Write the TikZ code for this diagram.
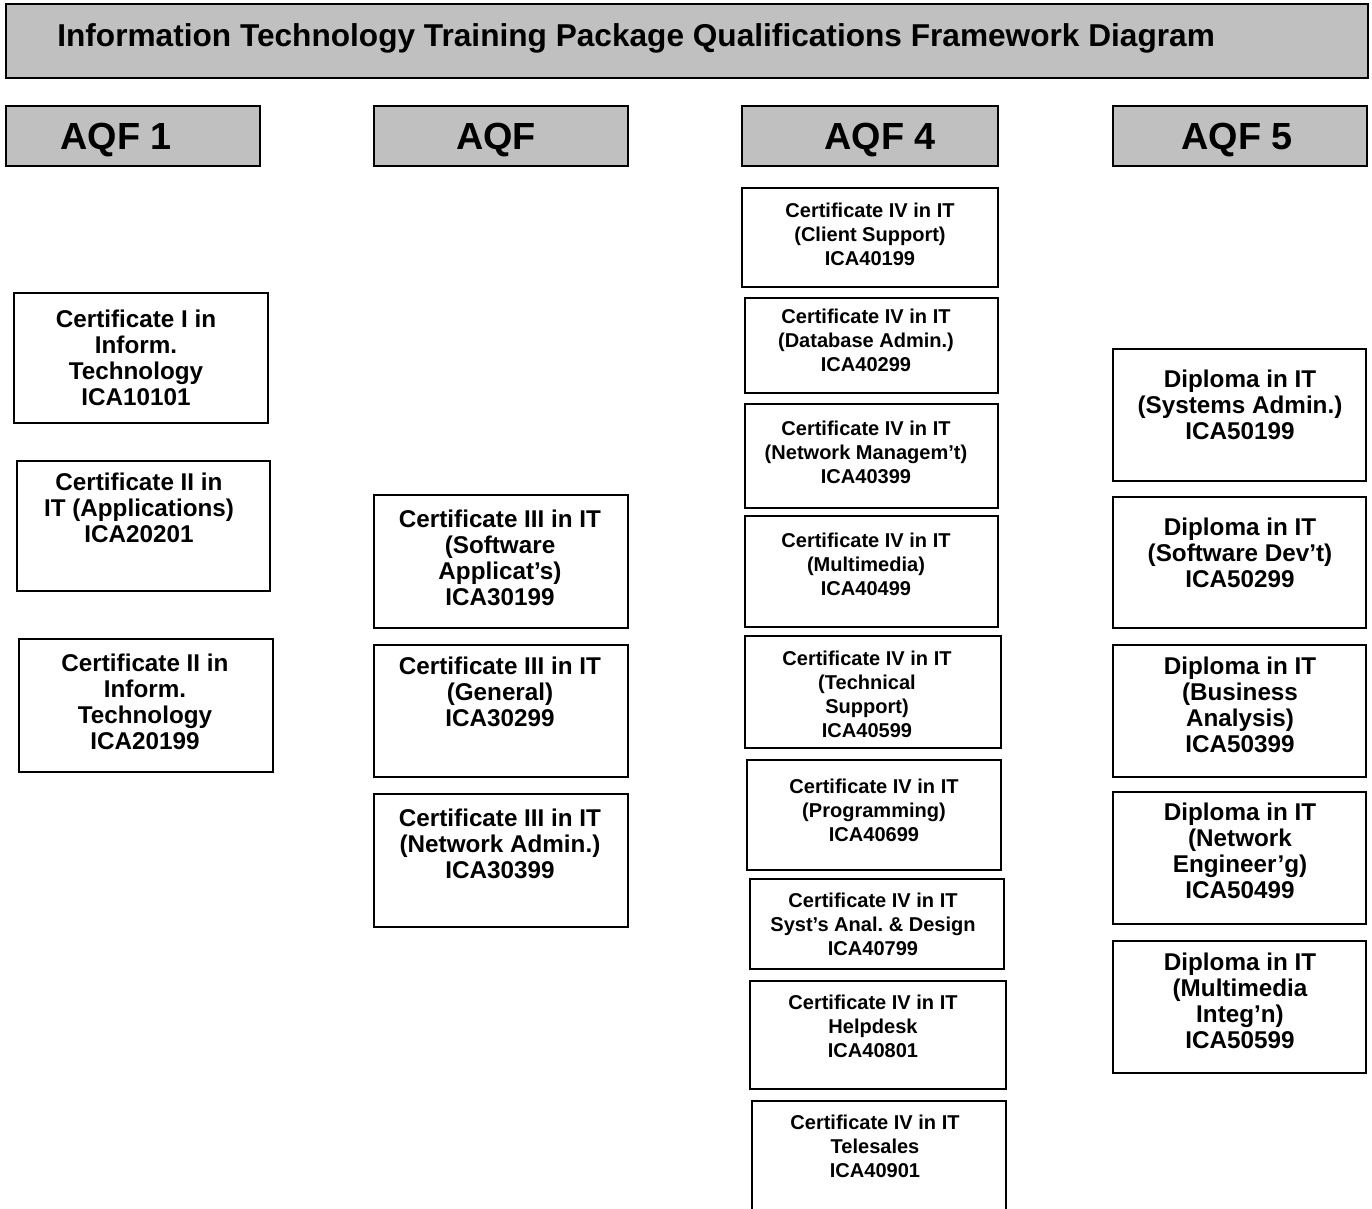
\documentclass[tikz,border=0pt]{standalone}
\usepackage{fontspec}
\setmainfont{Liberation Sans}
\definecolor{headgray}{RGB}{192,192,192}
\frenchspacing

% box with its text: style, name, corner, corner, text point, text
\newcommand{\qual}[6]{%
  \draw[frame] #3 rectangle #4;
  \node[#1] (#2) at #5 {#6};
}

\begin{document}
\begin{tikzpicture}[x=0.02cm, y=-0.02cm,
  frame/.style={draw=black, line width=1.2pt},
  headbox/.style={frame, fill=headgray},
  big/.style={anchor=north, align=center, inner sep=0pt, font=\bfseries\fontsize{13.8}{14.9}\selectfont},
  small/.style={anchor=north, align=center, inner sep=0pt, font=\bfseries\fontsize{11.4}{13.6}\selectfont},
  head/.style={anchor=base, inner sep=0pt, font=\bfseries\fontsize{21.5}{25}\selectfont}]

\useasboundingbox (0,0) rectangle (1372,1209);

% title
\filldraw[headbox] (6,4) rectangle (1368,78);
\node[anchor=base west, inner sep=0pt, font=\bfseries\fontsize{18}{21}\selectfont] (title) at (57,47)
  {Information Technology Training Package Qualifications Framework Diagram};

% level headers
\filldraw[headbox] (6,106) rectangle (260,166);
\node[head] (aqf1) at (116,150) {AQF 1};
\filldraw[headbox] (374,106) rectangle (628,166);
\node[head] (aqf3) at (496,150) {AQF};
\filldraw[headbox] (742,106) rectangle (998,166);
\node[head] (aqf4) at (880,150) {AQF 4};
\filldraw[headbox] (1113,106) rectangle (1367,166);
\node[head] (aqf5) at (1237,150) {AQF 5};

% AQF 1
\qual{big}{certI}{(14,293)}{(268,423)}{(136,309.5)}{Certificate I in\\Inform.\\Technology\\ICA10101}
\qual{big}{certIIapp}{(17,461)}{(270,591)}{(139,472.5)}{Certificate II in\\IT (Applications)\\ICA20201}
\qual{big}{certII}{(19,639)}{(273,772)}{(145,653.5)}{Certificate II in\\Inform.\\Technology\\ICA20199}

% AQF 3
\qual{big}{certIIIsw}{(374,495)}{(628,628)}{(500,509.5)}{Certificate III in IT\\(Software\\Applicat's)\\ICA30199}
\qual{big}{certIIIgen}{(374,645)}{(628,777)}{(500,656.5)}{Certificate III in IT\\(General)\\ICA30299}
\qual{big}{certIIInet}{(374,794)}{(628,927)}{(500,808.5)}{Certificate III in IT\\(Network Admin.)\\ICA30399}

% AQF 4
\qual{small}{certIVcs}{(742,188)}{(998,287)}{(870,203)}{Certificate IV in IT\\(Client Support)\\ICA40199}
\qual{small}{certIVdb}{(745,298)}{(998,393)}{(866,309)}{Certificate IV in IT\\(Database Admin.)\\ICA40299}
\qual{small}{certIVnm}{(745,404)}{(998,508)}{(866,421)}{Certificate IV in IT\\(Network Managem't)\\ICA40399}
\qual{small}{certIVmm}{(745,516)}{(998,627)}{(866,533)}{Certificate IV in IT\\(Multimedia)\\ICA40499}
\qual{small}{certIVts}{(745,636)}{(1001,748)}{(867,651)}{Certificate IV in IT\\(Technical\\Support)\\ICA40599}
\qual{small}{certIVpr}{(747,760)}{(1001,870)}{(874,779)}{Certificate IV in IT\\(Programming)\\ICA40699}
\qual{small}{certIVsa}{(750,879)}{(1004,969)}{(873,893)}{Certificate IV in IT\\Syst's Anal. \& Design\\ICA40799}
\qual{small}{certIVhd}{(750,981)}{(1006,1089)}{(873,995)}{Certificate IV in IT\\Helpdesk\\ICA40801}
\draw[frame] (752,1212) -- (752,1101) -- (1006,1101) -- (1006,1212);
\node[small] (certIVtel) at (875,1115) {Certificate IV in IT\\Telesales\\ICA40901};

% AQF 5
\qual{big}{dipsys}{(1113,349)}{(1366,481)}{(1240,369.5)}{Diploma in IT\\(Systems Admin.)\\ICA50199}
\qual{big}{dipsw}{(1113,497)}{(1366,628)}{(1240,517.5)}{Diploma in IT\\(Software Dev't)\\ICA50299}
\qual{big}{dipba}{(1113,645)}{(1366,777)}{(1240,656.5)}{Diploma in IT\\(Business\\Analysis)\\ICA50399}
\qual{big}{dipne}{(1113,792)}{(1366,924)}{(1240,802.5)}{Diploma in IT\\(Network\\Engineer'g)\\ICA50499}
\qual{big}{dipmm}{(1113,941)}{(1366,1073)}{(1240,952.5)}{Diploma in IT\\(Multimedia\\Integ'n)\\ICA50599}

\end{tikzpicture}
\end{document}
